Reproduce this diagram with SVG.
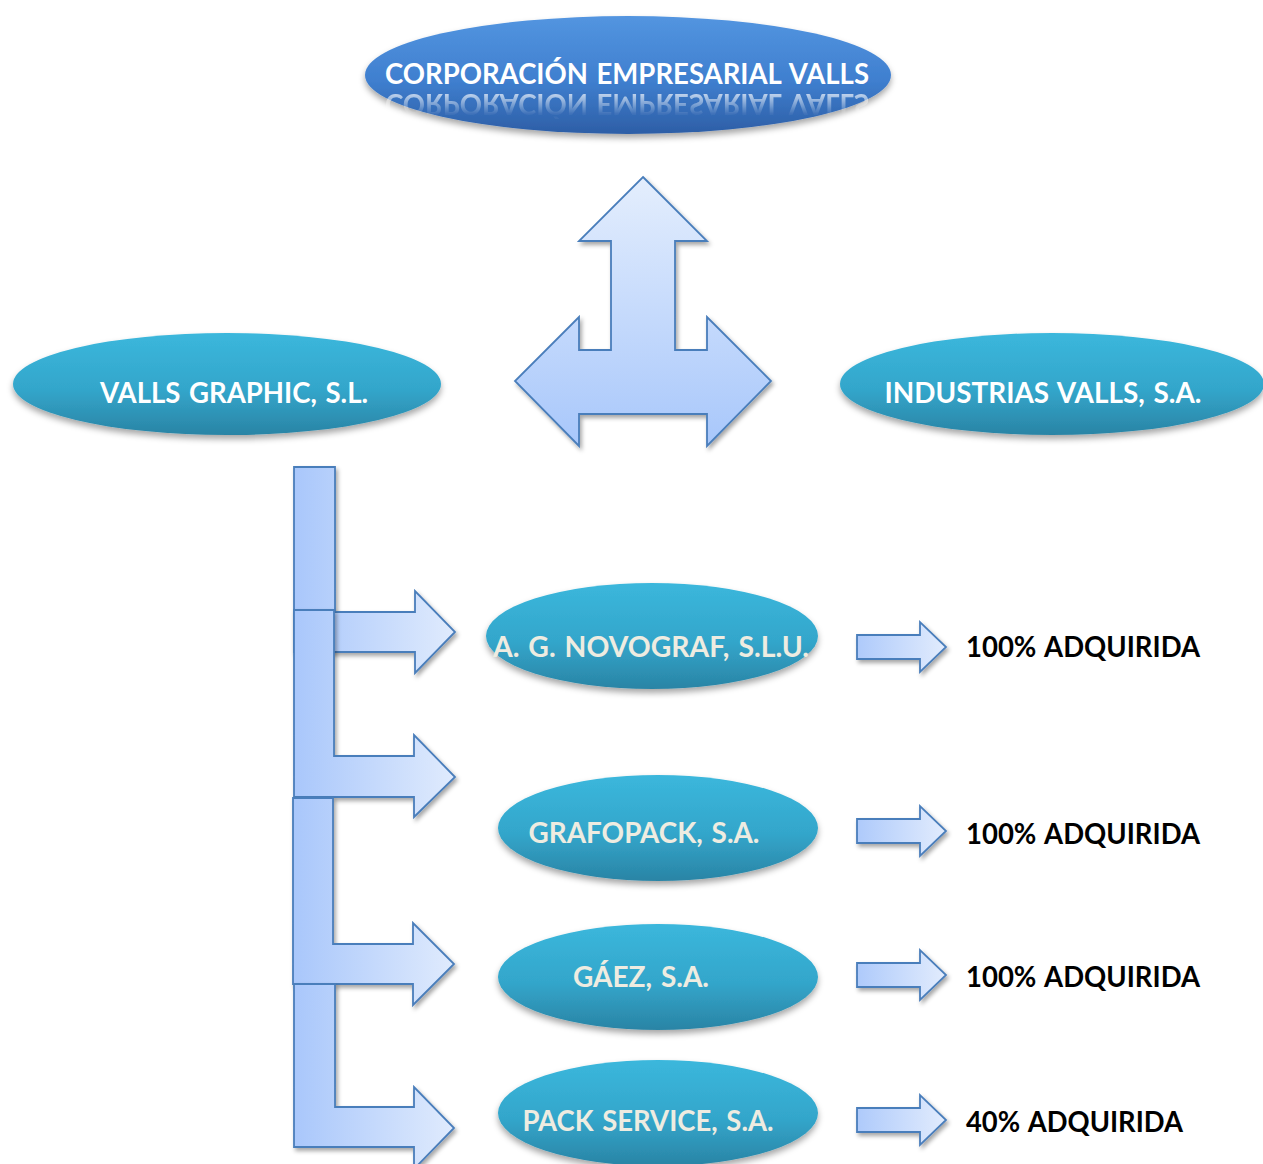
<svg xmlns="http://www.w3.org/2000/svg" width="1263" height="1164" viewBox="0 0 1263 1164">
<defs>
<style>
.lbl{font-family:"Lato","Carlito","Liberation Sans",sans-serif;font-weight:bold;font-size:28px;word-spacing:2px}
.w{fill:#ffffff}
.c{fill:#eeece1}
.k{fill:#000000}
.teal{fill:url(#tealG)}
.arr{stroke:#4a7ebb;stroke-width:1.8;stroke-linejoin:miter}
</style>
<linearGradient id="blueG" x1="0" y1="0" x2="0" y2="1">
<stop offset="0" stop-color="#5395e0"/>
<stop offset="0.55" stop-color="#3f7fcf"/>
<stop offset="1" stop-color="#2d5ea6"/>
</linearGradient>
<linearGradient id="tealG" x1="0" y1="0" x2="0" y2="1">
<stop offset="0" stop-color="#3bb7dc"/>
<stop offset="0.55" stop-color="#33a6cb"/>
<stop offset="1" stop-color="#2a84a5"/>
</linearGradient>
<linearGradient id="triG" x1="0" y1="0" x2="0" y2="1">
<stop offset="0" stop-color="#e4eefd"/>
<stop offset="1" stop-color="#a8c7fb"/>
</linearGradient>
<linearGradient id="bentG" gradientUnits="userSpaceOnUse" x1="294" y1="0" x2="455" y2="0">
<stop offset="0" stop-color="#a9c7fb"/>
<stop offset="1" stop-color="#e0ebfd"/>
</linearGradient>
<linearGradient id="smallG" x1="0" y1="0" x2="1" y2="0">
<stop offset="0" stop-color="#aecafb"/>
<stop offset="1" stop-color="#e2ecfd"/>
</linearGradient>
<linearGradient id="reflG" gradientUnits="userSpaceOnUse" x1="0" y1="90" x2="0" y2="114">
<stop offset="0" stop-color="#ffffff" stop-opacity="0.8"/>
<stop offset="1" stop-color="#ffffff" stop-opacity="0.05"/>
</linearGradient>
<mask id="reflM" maskUnits="userSpaceOnUse" x="350" y="80" width="560" height="50">
<rect x="350" y="89" width="560" height="30" fill="url(#reflG)"/>
</mask>
<filter id="shE" x="-10%" y="-20%" width="120%" height="150%">
<feDropShadow dx="0" dy="4" stdDeviation="3" flood-color="#000" flood-opacity="0.35"/>
</filter>
<filter id="shA" x="-10%" y="-10%" width="125%" height="125%">
<feDropShadow dx="2" dy="3" stdDeviation="2" flood-color="#000" flood-opacity="0.35"/>
</filter>
</defs>
<rect width="1263" height="1164" fill="#ffffff"/>

<g id="connectors">
<path id="tri-arrow" class="arr" fill="url(#triG)" filter="url(#shA)" d="M643,177 L707,241 L675,241 L675,350 L707,350 L707,317 L771,381 L707,446 L707,414 L579,414 L579,446 L515,381 L579,317 L579,350 L611,350 L611,241 L579,241 Z"/>
<path id="bent1" class="arr" fill="url(#bentG)" filter="url(#shA)" d="M294,467 H335 V612 H415 V591 L455,632 L415,673 V652 H294 Z"/>
<path id="bent2" class="arr" fill="url(#bentG)" filter="url(#shA)" d="M294,610 H334 V756 H414 V735 L455,777 L414,817 V797 H294 Z"/>
<path id="bent3" class="arr" fill="url(#bentG)" filter="url(#shA)" d="M293,798 H333 V944 H413 V923 L454,964 L413,1005 V984 H293 Z"/>
<path id="bent4" class="arr" fill="url(#bentG)" filter="url(#shA)" d="M294,984 H335 V1107 H414 V1087 L454,1128 L414,1169 V1147 H294 Z"/>
<path id="small1" class="arr" fill="url(#smallG)" filter="url(#shA)" d="M857,635 H920 V622 L946,647 L920,672 V659 H857 Z"/>
<path id="small2" class="arr" fill="url(#smallG)" filter="url(#shA)" d="M857,819 H920 V806 L946,831 L920,856 V843 H857 Z"/>
<path id="small3" class="arr" fill="url(#smallG)" filter="url(#shA)" d="M857,963 H920 V950 L946,975 L920,1000 V987 H857 Z"/>
<path id="small4" class="arr" fill="url(#smallG)" filter="url(#shA)" d="M857,1108 H920 V1095 L946,1120 L920,1145 V1132 H857 Z"/>
</g>

<g id="node-corporacion">
<ellipse cx="628" cy="75" rx="263" ry="59" fill="url(#blueG)" filter="url(#shE)"/>
<text class="lbl w" x="627" y="84" text-anchor="middle" textLength="484" lengthAdjust="spacingAndGlyphs">CORPORACIÓN EMPRESARIAL VALLS</text>
<g mask="url(#reflM)">
<text class="lbl w" x="627" y="84" text-anchor="middle" textLength="484" lengthAdjust="spacingAndGlyphs" transform="translate(0,178) scale(1,-1)">CORPORACIÓN EMPRESARIAL VALLS</text>
</g>
</g>

<g id="node-valls-graphic">
<ellipse cx="227" cy="384" rx="214" ry="51" class="teal" filter="url(#shE)"/>
<text class="lbl w" x="234" y="403" text-anchor="middle" textLength="268" lengthAdjust="spacingAndGlyphs">VALLS GRAPHIC, S.L.</text>
</g>

<g id="node-industrias">
<ellipse cx="1052" cy="384" rx="212" ry="51" class="teal" filter="url(#shE)"/>
<text class="lbl w" x="1043" y="403" text-anchor="middle" textLength="317" lengthAdjust="spacingAndGlyphs">INDUSTRIAS VALLS, S.A.</text>
</g>

<g id="node-novograf">
<ellipse cx="652" cy="636" rx="166" ry="53" class="teal" filter="url(#shE)"/>
<text class="lbl c" x="651" y="657" text-anchor="middle" textLength="316" lengthAdjust="spacingAndGlyphs">A. G. NOVOGRAF, S.L.U.</text>
</g>

<g id="node-grafopack">
<ellipse cx="658" cy="828" rx="160" ry="53" class="teal" filter="url(#shE)"/>
<text class="lbl c" x="644" y="843" text-anchor="middle" textLength="231" lengthAdjust="spacingAndGlyphs">GRAFOPACK, S.A.</text>
</g>

<g id="node-gaez">
<ellipse cx="658" cy="977" rx="160" ry="53" class="teal" filter="url(#shE)"/>
<text class="lbl c" x="641" y="987" text-anchor="middle" textLength="136" lengthAdjust="spacingAndGlyphs">GÁEZ, S.A.</text>
</g>

<g id="node-pack-service">
<ellipse cx="658" cy="1113" rx="160" ry="53" class="teal" filter="url(#shE)"/>
<text class="lbl c" x="648" y="1131" text-anchor="middle" textLength="251" lengthAdjust="spacingAndGlyphs">PACK SERVICE, S.A.</text>
</g>

<g id="labels">
<text class="lbl k" x="966" y="657" textLength="234" lengthAdjust="spacingAndGlyphs">100% ADQUIRIDA</text>
<text class="lbl k" x="966" y="844" textLength="234" lengthAdjust="spacingAndGlyphs">100% ADQUIRIDA</text>
<text class="lbl k" x="966" y="987" textLength="234" lengthAdjust="spacingAndGlyphs">100% ADQUIRIDA</text>
<text class="lbl k" x="966" y="1132" textLength="217" lengthAdjust="spacingAndGlyphs">40% ADQUIRIDA</text>
</g>
</svg>
